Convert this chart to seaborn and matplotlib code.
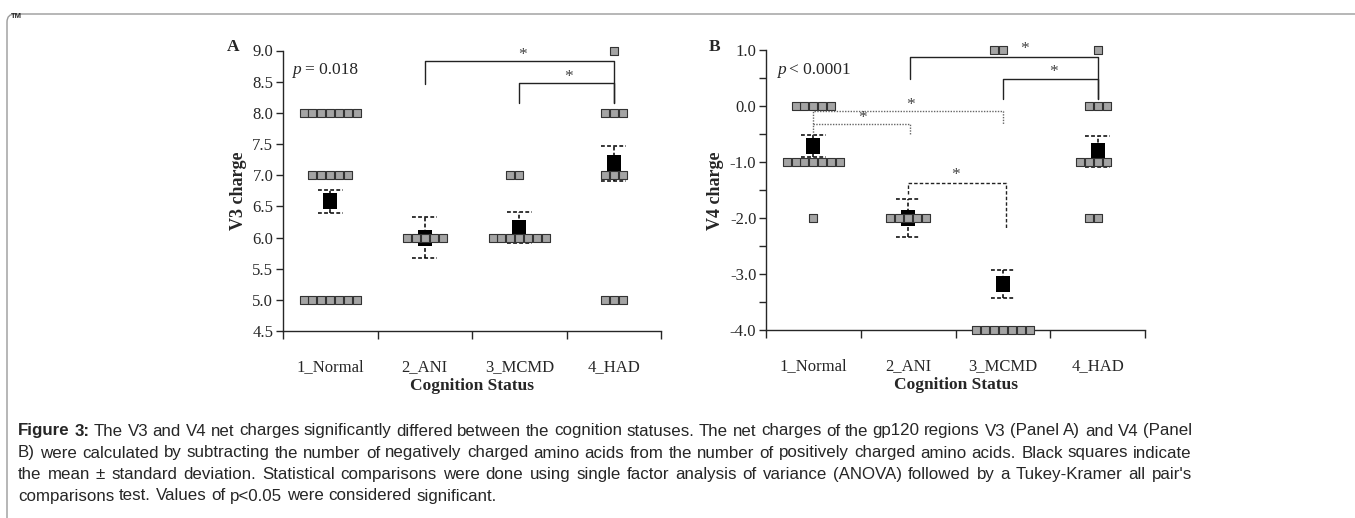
import numpy as np
import pandas as pd
import matplotlib
matplotlib.use("Agg")
import matplotlib.pyplot as plt
import seaborn as sns
from matplotlib.patches import FancyBboxPatch
from matplotlib.transforms import IdentityTransform

# ---------------- data ----------------
categories = ["1_Normal", "2_ANI", "3_MCMD", "4_HAD"]

v3_normal = [8, 8, 8, 8, 8, 8, 8, 7, 7, 7, 7, 7, 5, 5, 5, 5, 5, 5, 5]
v3_ani = [6, 6, 6, 6, 6]
v3_mcmd = [7, 7, 6, 6, 6, 6, 6, 6, 6]
v3_had = [9, 8, 8, 8, 7, 7, 7, 5, 5, 5]

v4_normal = [0, 0, 0, 0, 0, -1, -1, -1, -1, -1, -1, -1, -2]
v4_ani = [-2, -2, -2, -2, -2]
v4_mcmd = [1, 1, -4, -4, -4, -4, -4, -4, -4]
v4_had = [1, 0, 0, 0, -1, -1, -1, -1, -2, -2]

v3_mean = [6.58, 6.00, 6.16, 7.19]
v3_err = [0.19, 0.335, 0.245, 0.28]
v4_mean = [-0.71, -2.00, -3.17, -0.805]
v4_err = [0.19, 0.34, 0.25, 0.275]

v3_ticks = [4.5, 5.0, 5.5, 6.0, 6.5, 7.0, 7.5, 8.0, 8.5, 9.0]
v4_ticks = [-4.0, -3.0, -2.0, -1.0, 0.0, 1.0]
v4_minor = [-3.5, -2.5, -1.5, -0.5, 0.5]

p_text_a = "= 0.018"
p_text_b = "< 0.0001"

# brackets: x_left, x_right, y_left_end, y_top, y_right_end, star_x, star_y, style
brackets_a = [
    (1.0, 3.0, 8.47, 8.83, 8.16, 2.04, 8.93, "solid"),
    (2.0, 3.0, 8.15, 8.48, 8.16, 2.52, 8.58, "solid"),
]
brackets_b = [
    (1.02, 3.0, 0.49, 0.89, 0.14, 2.23, 1.02, "solid"),
    (2.0, 3.0, 0.13, 0.49, 0.13, 2.53, 0.62, "solid"),
    (0.0, 2.0, -0.52, -0.08, -0.32, 1.03, 0.02, "dotted"),
    (0.0, 1.02, -0.32, -0.32, -0.52, 0.52, -0.2, "dotted"),
    (1.0, 2.03, -1.56, -1.37, -2.17, 1.5, -1.22, "dashed"),
]

caption_lines = [
    [("Figure 3:", True), ("The V3 and V4 net charges significantly differed between the cognition statuses. The net charges of the gp120 regions V3 (Panel A) and V4 (Panel", False)],
    [("B) were calculated by subtracting the number of negatively charged amino acids from the number of positively charged amino acids. Black squares indicate", False)],
    [("the mean \u00b1 standard deviation. Statistical comparisons were done using single factor analysis of variance (ANOVA) followed by a Tukey-Kramer all pair's", False)],
    [("comparisons test. Values of p<0.05 were considered significant.", False)],
]

# ---------------- style ----------------
sns.set_style("ticks")
plt.rcParams["font.family"] = ["Liberation Serif", "DejaVu Serif"]
plt.rcParams["axes.unicode_minus"] = False
plt.rcParams["axes.linewidth"] = 1.0

W, H = 1355, 518
fig = plt.figure(figsize=(W / 100, H / 100), dpi=100)
fig.patch.set_facecolor("white")


def fx(px):
    return px / W


def fy(py):
    return 1 - py / H


axA = fig.add_axes([fx(283), fy(331), (661 - 283) / W, (331 - 50.5) / H])
axB = fig.add_axes([fx(766), fy(330), (1145 - 766) / W, (330 - 50.5) / H])


def long_df(groups):
    rows = []
    for cat, vals in zip(categories, groups):
        for v in vals:
            rows.append((cat, v))
    return pd.DataFrame(rows, columns=["group", "value"])


dfA = long_df([v3_normal, v3_ani, v3_mcmd, v3_had])
dfB = long_df([v4_normal, v4_ani, v4_mcmd, v4_had])

tick_font = 12
label_font = 12.5
mean_marker = [(-0.42, -0.5), (0.42, -0.5), (0.42, 0.5), (-0.42, 0.5), (-0.42, -0.5)]
dash = (0, (2.5, 1.5))


def draw_panel(ax, df, means, errs, ylim):
    ax.set_xlim(-0.5, 3.5)
    ax.set_ylim(*ylim)
    xs = np.arange(len(categories))
    m = np.array(means)
    e = np.array(errs)
    ax.vlines(xs, m - e, m + e, colors="black", linestyles=dash, lw=1.1, zorder=2)
    ax.hlines(m + e, xs - 0.13, xs + 0.13, colors="black", linestyles=dash, lw=1.1, zorder=2)
    ax.hlines(m - e, xs - 0.13, xs + 0.13, colors="black", linestyles=dash, lw=1.1, zorder=2)
    ax.scatter(xs, m, marker=mean_marker, s=135, color="black", lw=0, zorder=2.5)
    sns.swarmplot(data=df, x="group", y="value", order=categories, ax=ax,
                  marker="s", size=5.3, color="#a4a4a4", edgecolor="#333333",
                  linewidth=0.8, zorder=3, warn_thresh=1.0)
    for c in ax.collections:
        c.set_clip_on(False)
    ax.set_xlim(-0.5, 3.5)
    ax.set_ylim(*ylim)
    sns.despine(ax=ax)
    ax.set_xticks([-0.5, 0.5, 1.5, 2.5, 3.5])
    ax.set_xticklabels([])
    ax.set_xticks(xs, minor=True)
    ax.set_xticklabels(categories, minor=True, fontsize=tick_font)
    ax.tick_params(axis="x", which="major", length=6, width=1, direction="out")
    ax.tick_params(axis="x", which="minor", length=0, pad=20)
    ax.tick_params(axis="y", which="both", direction="out", width=1)
    ax.tick_params(axis="y", which="major", length=5, pad=2, labelsize=tick_font)
    ax.tick_params(axis="y", which="minor", length=5)
    ax.set_xlabel("Cognition Status", fontsize=label_font, fontweight="bold", labelpad=2)


def draw_brackets(ax, brackets):
    for xl, xr, yl, yt, yr, sx, sy, style in brackets:
        if style == "solid":
            kw = dict(color="#222222", lw=1.0, ls="-")
        elif style == "dotted":
            kw = dict(color="#666666", lw=1.0, ls=(0, (1, 1)))
        else:
            kw = dict(color="#222222", lw=1.0, ls=dash)
        ax.plot([xl, xl, xr, xr], [yl, yt, yt, yr], clip_on=False, zorder=4, **kw)
        ax.text(sx, sy, "*", ha="center", va="center", fontsize=12.5, color="#444444", zorder=5)


draw_panel(axA, dfA, v3_mean, v3_err, (4.5, 9.0))
axA.set_yticks(v3_ticks)
axA.set_yticklabels([f"{t:.1f}" for t in v3_ticks])
axA.set_ylabel("V3 charge", fontsize=13, fontweight="bold", labelpad=4)
draw_brackets(axA, brackets_a)

draw_panel(axB, dfB, v4_mean, v4_err, (-4.0, 1.0))
axB.set_yticks(v4_ticks)
axB.set_yticklabels([f"{t:.1f}" for t in v4_ticks])
axB.set_yticks(v4_minor, minor=True)
axB.set_ylabel("V4 charge", fontsize=13, fontweight="bold", labelpad=4)
draw_brackets(axB, brackets_b)

# p values
fig.text(fx(292), fy(70), "p", fontsize=12.5, ha="left", va="center", style="italic")
fig.text(fx(305), fy(70), p_text_a, fontsize=12.5, ha="left", va="center")
fig.text(fx(777), fy(70), "p", fontsize=12.5, ha="left", va="center", style="italic")
fig.text(fx(789), fy(70), p_text_b, fontsize=12.5, ha="left", va="center")

# panel letters
fig.text(fx(233), fy(47), "A", fontsize=12.5, fontweight="bold", ha="center", va="center")
fig.text(fx(715), fy(47), "B", fontsize=12.5, fontweight="bold", ha="center", va="center")

# frame and TM
frame = FancyBboxPatch((7, -60), 1600, (H - 14) + 60,
                       boxstyle="round,pad=0,rounding_size=8",
                       transform=IdentityTransform(), facecolor="none",
                       edgecolor="#9a9a9a", lw=1.0)
fig.add_artist(frame)
fig.text(fx(11), fy(17), "TM", fontsize=5.5, fontweight="bold", ha="left", va="center",
         family="Liberation Sans")

# caption, justified
capfam = "Liberation Sans"
cap_fs = 12.2
renderer = fig.canvas.get_renderer()
x0, x1 = 18, 1192
line_y = [431, 453, 474.5, 496]


def measure(s, bold=False):
    t = fig.text(0, 0, s, fontsize=cap_fs, family=capfam,
                 fontweight="bold" if bold else "normal")
    w = t.get_window_extent(renderer).width
    t.remove()
    return w


space_w = measure("a a") - measure("aa")
for li, (segs, y) in enumerate(zip(caption_lines, line_y)):
    words = []
    for s, bold in segs:
        for wd in s.split(" "):
            words.append((wd, bold))
    widths = [measure(wd, b) for wd, b in words]
    if li < len(caption_lines) - 1:
        gap = (x1 - x0 - sum(widths)) / (len(words) - 1)
    else:
        gap = space_w
    x = x0
    for (wd, b), w in zip(words, widths):
        fig.text(fx(x), fy(y), wd, fontsize=cap_fs, family=capfam,
                 fontweight="bold" if b else "normal", ha="left", va="center")
        x += w + gap

fig.savefig("out.png", dpi=100, facecolor="white")
